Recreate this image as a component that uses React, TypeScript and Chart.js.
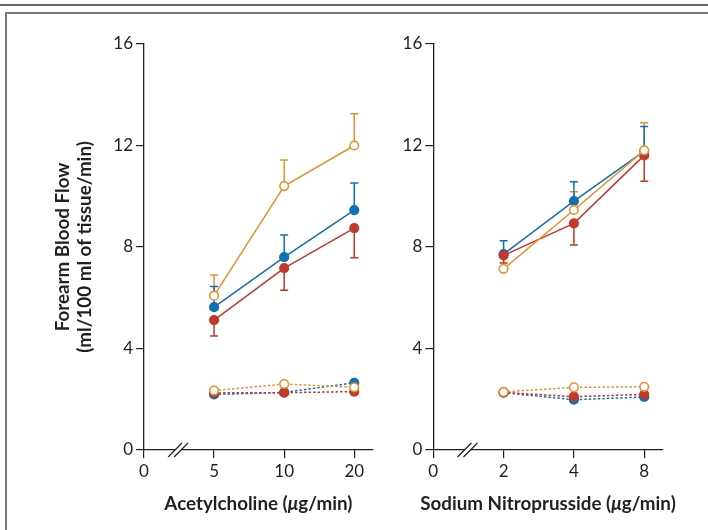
import React, { useEffect, useRef } from 'react';
import { Chart, registerables } from 'chart.js';

Chart.register(...registerables);

// ---------- data ----------
const ACH_TICK_LABELS = ['0', '5', '10', '20'];
const SNP_TICK_LABELS = ['0', '2', '4', '8'];
const DOSE_POS = [1, 2, 3];
const Y_TICKS = [0, 4, 8, 12, 16];

const Y_TITLE = ['Forearm Blood Flow', '(ml/100 ml of tissue/min)'];
// x titles split so that the Greek mu can be set in italics
const ACH_TITLE = ['Acetylcholine (', 'μ', 'g/min)'];
const SNP_TITLE = ['Sodium Nitroprusside (', 'μ', 'g/min)'];

// Acetylcholine – solid lines (with SE bars)
const achOrange = [6.08, 10.4, 12.0];
const achOrangeErr = [0.82, 1.03, 1.25];
const achBlue = [5.63, 7.6, 9.45];
const achBlueErr = [0.81, 0.87, 1.07];
const achRed = [5.12, 7.17, 8.74];
const achRedErr = [0.63, 0.87, 1.16];
// Acetylcholine – dotted lines
const achOrangeDot = [2.34, 2.6, 2.47];
const achBlueDot = [2.19, 2.27, 2.65];
const achRedDot = [2.25, 2.26, 2.3];

// Sodium nitroprusside – solid lines
const snpOrange = [7.14, 9.46, 11.81];
const snpOrangeErr = [0.45, 0.72, 1.09];
const snpBlue = [7.72, 9.81, 11.78];
const snpBlueErr = [0.53, 0.76, 0.97];
const snpRed = [7.67, 8.93, 11.61];
const snpRedErr = [0.3, 0.85, 1.02];
// Sodium nitroprusside – dotted lines
const snpOrangeDot = [2.29, 2.47, 2.49];
const snpBlueDot = [2.26, 1.98, 2.09];
const snpRedDot = [2.27, 2.1, 2.19];

// ---------- styles ----------
const ORANGE = '#E8912E';
const BLUE = '#0F70B6';
const RED = '#C0392B';
const INK = '#231F20';
const FONT = 'Lato';
const TITLE_SIZE = 18.8;

function series(values: number[], color: string, open: boolean, dotted: boolean, order: number, errors?: number[], errDir?: number) {
  return {
    data: DOSE_POS.map((x, i) => ({ x, y: values[i] })),
    borderColor: color,
    backgroundColor: open ? '#ffffff' : color,
    pointBackgroundColor: open ? '#ffffff' : color,
    pointBorderColor: color,
    pointRadius: 4.3,
    pointBorderWidth: 1.6,
    borderWidth: 1.5,
    borderDash: dotted ? [2.5, 2] : [],
    tension: 0,
    order,
    errors,
    errDir,
  };
}

const errorBarPlugin = {
  id: 'errorBars',
  beforeDatasetsDraw(chart: any) {
    const ctx = chart.ctx;
    const yScale = chart.scales.y;
    chart.data.datasets.forEach((ds: any, di: number) => {
      if (!ds.errors) return;
      const meta = chart.getDatasetMeta(di);
      ctx.save();
      ctx.strokeStyle = ds.borderColor;
      ctx.lineWidth = 1.5;
      meta.data.forEach((pt: any, j: number) => {
        const v = ds.data[j].y + ds.errDir * ds.errors[j];
        const yEnd = yScale.getPixelForValue(v);
        ctx.beginPath();
        ctx.moveTo(pt.x, pt.y);
        ctx.lineTo(pt.x, yEnd);
        ctx.moveTo(pt.x - 4, yEnd);
        ctx.lineTo(pt.x + 4, yEnd);
        ctx.stroke();
      });
      ctx.restore();
    });
  },
};

const axisBreakPlugin = {
  id: 'axisBreak',
  afterDraw(chart: any) {
    const ctx = chart.ctx;
    const xs = chart.scales.x;
    const cx = xs.getPixelForValue(0.5) - 1;
    const y0 = chart.chartArea.bottom;
    const d = 7;
    const g = 3;
    ctx.save();
    ctx.fillStyle = '#ffffff';
    ctx.beginPath();
    ctx.moveTo(cx - g - d, y0 + d);
    ctx.lineTo(cx - g + d, y0 - d);
    ctx.lineTo(cx + g + d, y0 - d);
    ctx.lineTo(cx + g - d, y0 + d);
    ctx.closePath();
    ctx.fill();
    ctx.strokeStyle = INK;
    ctx.lineWidth = 1.2;
    ctx.beginPath();
    ctx.moveTo(cx - g - d, y0 + d);
    ctx.lineTo(cx - g + d, y0 - d);
    ctx.moveTo(cx + g - d, y0 + d);
    ctx.lineTo(cx + g + d, y0 - d);
    ctx.stroke();
    ctx.restore();
  },
};

// x-axis title with an italic mu, centred under the plot area
const xTitlePlugin = {
  id: 'xTitle',
  afterDraw(chart: any, _args: any, pluginOpts: any) {
    const parts: string[] = pluginOpts.parts || [];
    if (!parts.length) return;
    const ctx = chart.ctx;
    const { left, right } = chart.chartArea;
    const cx = (left + right) / 2;
    const y = 503.5;
    const fonts = parts.map((_, i) =>
      i === 1 ? `italic bold ${TITLE_SIZE}px ${FONT}` : `bold ${TITLE_SIZE}px ${FONT}`
    );
    ctx.save();
    ctx.fillStyle = INK;
    ctx.textBaseline = 'middle';
    ctx.textAlign = 'left';
    const widths = parts.map((p, i) => {
      ctx.font = fonts[i];
      return ctx.measureText(p).width;
    });
    const total = widths.reduce((a, b) => a + b, 0);
    let x = cx - total / 2;
    parts.forEach((p, i) => {
      ctx.font = fonts[i];
      ctx.fillText(p, x, y);
      x += widths[i];
    });
    ctx.restore();
  },
};

function buildConfig(opts: {
  tickLabels: string[];
  xTitle: string[];
  yTitle?: string[];
  yWidth: number;
  padRight: number;
  datasets: any[];
}) {
  const tickFont = { family: FONT, size: 17, weight: 'normal' as const };
  const grid = { drawOnChartArea: false, drawTicks: true, tickLength: 8, color: INK, lineWidth: 1.2 };
  const border = { display: true, color: INK, width: 1.3 };
  return {
    type: 'line' as const,
    data: { datasets: opts.datasets },
    plugins: [errorBarPlugin, axisBreakPlugin, xTitlePlugin],
    options: {
      animation: false as const,
      responsive: false,
      maintainAspectRatio: false,
      layout: { padding: { top: 44, left: 0, right: opts.padRight, bottom: 0 } },
      plugins: {
        legend: { display: false },
        tooltip: { enabled: false },
        xTitle: { parts: opts.xTitle },
      },
      scales: {
        x: {
          type: 'linear' as const,
          min: 0,
          max: 3.263,
          afterBuildTicks: (s: any) => {
            s.ticks = opts.tickLabels.map((_, i) => ({ value: i }));
          },
          afterFit: (s: any) => {
            s.height = 80;
          },
          ticks: {
            callback: (v: any) => opts.tickLabels[v] ?? '',
            font: tickFont,
            color: INK,
            padding: 3,
            autoSkip: false,
            maxRotation: 0,
          },
          grid,
          border,
          title: { display: false },
        },
        y: {
          type: 'linear' as const,
          min: 0,
          max: 16,
          afterBuildTicks: (s: any) => {
            s.ticks = Y_TICKS.map((v) => ({ value: v }));
          },
          afterFit: (s: any) => {
            s.width = opts.yWidth;
          },
          ticks: { font: tickFont, color: INK, padding: 3 },
          grid,
          border,
          title: {
            display: !!opts.yTitle,
            text: opts.yTitle ?? '',
            color: INK,
            font: { family: FONT, size: TITLE_SIZE, weight: 'bold' as const, lineHeight: 1.18 },
            padding: { top: 52, bottom: 0 },
          },
        },
      },
    },
  };
}

function Panel(props: { left: number; width: number; config: any }) {
  const ref = useRef<HTMLCanvasElement | null>(null);
  useEffect(() => {
    if (!ref.current) return;
    const chart = new Chart(ref.current, props.config);
    return () => chart.destroy();
  }, []);
  return (
    <canvas
      ref={ref}
      width={props.width}
      height={530}
      style={{ position: 'absolute', left: props.left, top: 0, width: props.width, height: 530 }}
    />
  );
}

export default function App() {
  const leftConfig = buildConfig({
    tickLabels: ACH_TICK_LABELS,
    xTitle: ACH_TITLE,
    yTitle: Y_TITLE,
    yWidth: 144,
    padRight: 7.3,
    datasets: [
      series(achOrange, ORANGE, true, false, 0, achOrangeErr, 1),
      series(achRed, RED, false, false, 1, achRedErr, -1),
      series(achBlue, BLUE, false, false, 2, achBlueErr, 1),
      series(achOrangeDot, ORANGE, true, true, 3),
      series(achRedDot, RED, false, true, 4),
      series(achBlueDot, BLUE, false, true, 5),
    ],
  });
  const rightConfig = buildConfig({
    tickLabels: SNP_TICK_LABELS,
    xTitle: SNP_TITLE,
    yWidth: 53.3,
    padRight: 45.3,
    datasets: [
      series(snpOrange, ORANGE, true, false, 0, snpOrangeErr, 1),
      series(snpRed, RED, false, false, 1, snpRedErr, -1),
      series(snpBlue, BLUE, false, false, 2, snpBlueErr, 1),
      series(snpOrangeDot, ORANGE, true, true, 3),
      series(snpRedDot, RED, false, true, 4),
      series(snpBlueDot, BLUE, false, true, 5),
    ],
  });

  return (
    <div style={{ position: 'absolute', left: 0, top: 0, width: 708, height: 530, background: '#fff', overflow: 'hidden' }}>
      <div style={{ position: 'absolute', left: 0, top: 4, width: 708, height: 2, background: '#666' }} />
      <div
        style={{
          position: 'absolute',
          left: 5,
          top: 12,
          width: 800,
          height: 700,
          border: '2px solid #777',
          boxSizing: 'border-box',
        }}
      />
      <Panel left={0} width={380} config={leftConfig} />
      <Panel left={380} width={328} config={rightConfig} />
    </div>
  );
}
